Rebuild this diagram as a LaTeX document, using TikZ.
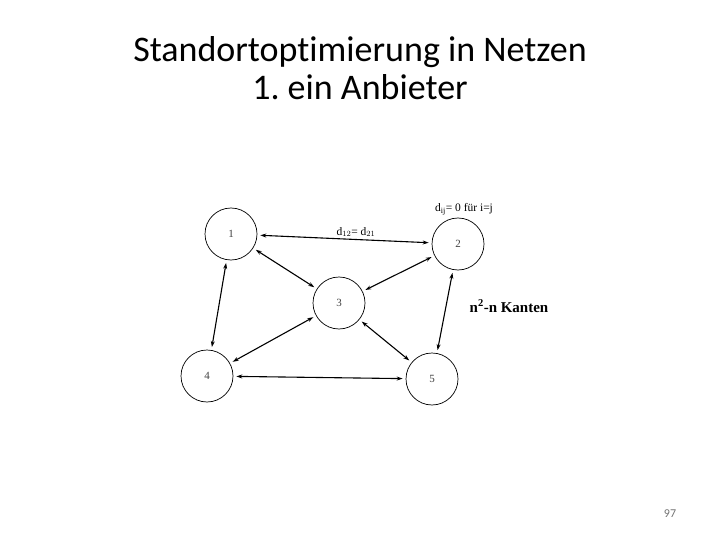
\documentclass[tikz,border=0pt]{standalone}
\usepackage{fontspec}
\setmainfont{Liberation Serif}
\newfontfamily\titlefont[Ligatures=NoCommon]{Carlito}
\usetikzlibrary{arrows.meta}

\tikzset{
  ort/.style={draw, circle, minimum size=52pt, inner sep=0pt, line width=0.7pt,
    font=\fontsize{11}{13}\selectfont, text=black!75},
  kante/.style={{Stealth[length=6pt,width=4pt]}-{Stealth[length=6pt,width=4pt]},
    line width=1.1pt, shorten <=3pt, shorten >=3pt}
}

\begin{document}
\begin{tikzpicture}[x=1pt, y=-1pt]
    \useasboundingbox (0,0) rectangle (720,540);
    \node [font=\titlefont\fontsize{36}{38}\selectfont\frenchspacing, align=center] (titel) at (360,68)
      {Standortoptimierung in Netzen\\1. ein Anbieter};
    \node [ort] (n1) at (231,234) {1};
    \node [ort] (n2) at (458,244) {2};
    \node [ort] (n3) at (339,303) {3};
    \node [ort] (n4) at (207,376) {4};
    \node [ort] (n5) at (432,379) {5};
    \draw [kante] (n1) -- (n2);
    \draw [kante] (n1) -- (n3);
    \draw [kante] (n3) -- (n2);
    \draw [kante] (n1) -- (n4);
    \draw [kante] (n3) -- (n4);
    \draw [kante] (n3) -- (n5);
    \draw [kante] (n2) -- (n5);
    \draw [kante] (n4) -- (n5);
    \node [font=\fontsize{11.5}{13}\selectfont] (dij) at (464,209) {d$_{\mathrm{ij}}$= 0 für i=j};
    \node [font=\fontsize{11.5}{13}\selectfont] (d12) at (356,232) {d$_{12}$= d$_{21}$};
    \node [font=\bfseries\fontsize{15}{17}\selectfont] (kanten) at (509,306) {n$^{\mathbf{2}}$-n Kanten};
    \node [font=\titlefont\fontsize{12}{14}\selectfont, text=black!55] (seite) at (670,514) {97};
\end{tikzpicture}
\end{document}
